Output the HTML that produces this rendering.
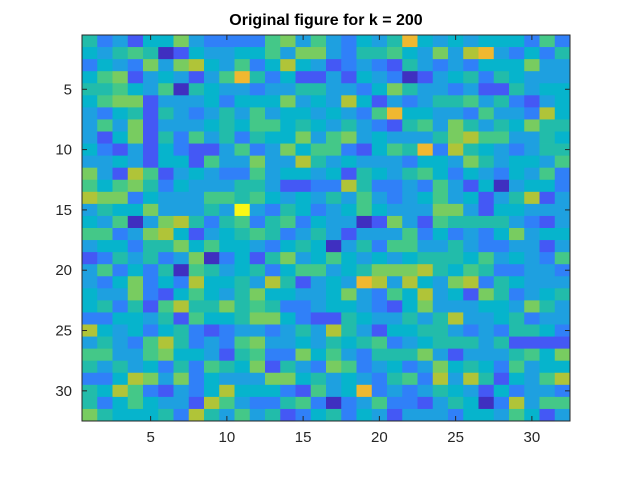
<!DOCTYPE html>
<html><head><meta charset="utf-8"><style>
body{margin:0;background:#fff;font-family:"Liberation Sans",sans-serif}
</style></head><body>
<svg id="chart" width="630" height="472" xmlns="http://www.w3.org/2000/svg">
<rect width="630" height="472" fill="#fff"/>
<text x="326" y="25" text-anchor="middle" font-family="Liberation Sans, sans-serif" font-weight="bold" font-size="16" fill="#000">Original figure for k = 200</text>
<g id="cells"></g>
<g id="axes"></g>
</svg>
<script>
const xTicks=[5,10,15,20,25,30];
const yTicks=[5,10,15,20,25,30];
const matrix=[
[5,2,3,1,4,4,7,3,2,2,2,2,6,7,3,6,3,2,4,3,5,9,4,3,4,3,4,4,4,2,6,2],
[4,3,5,6,5,0,1,4,3,3,4,4,6,3,7,7,3,2,5,5,6,4,3,7,3,8,9,3,2,4,2,5],
[2,4,3,2,7,3,7,8,4,3,6,2,4,8,4,3,1,2,3,2,1,5,3,2,3,2,4,4,4,7,3,3],
[4,6,7,1,3,4,3,1,3,6,9,5,2,4,1,1,3,1,4,3,2,0,1,3,4,5,2,5,4,3,3,3],
[5,5,6,4,3,6,0,5,4,3,3,2,3,3,5,5,3,3,2,4,7,5,3,3,2,3,1,1,5,3,4,4],
[4,6,7,7,1,3,3,3,4,2,4,4,4,7,3,4,3,8,4,1,3,2,3,5,5,6,3,5,2,1,3,4],
[3,2,4,5,1,5,3,2,3,5,3,6,3,4,4,3,4,3,2,6,9,4,4,3,3,2,6,3,3,2,8,4],
[3,6,3,7,1,3,3,3,4,5,4,6,6,4,5,4,3,5,3,2,1,5,6,3,7,5,3,5,4,7,5,5],
[3,1,4,7,1,5,2,6,3,5,2,5,4,4,7,3,6,7,3,4,3,3,3,5,7,8,6,6,3,3,5,4],
[4,2,1,3,1,4,2,1,1,3,6,2,3,7,4,6,6,2,1,4,6,5,9,2,8,5,4,3,2,3,5,5],
[3,3,4,3,1,4,4,1,6,3,3,7,3,3,8,5,3,4,3,3,3,2,4,4,3,7,5,3,4,4,3,6],
[7,3,1,8,6,1,3,4,3,2,2,6,3,4,4,3,4,1,5,4,3,5,6,4,2,4,3,2,4,3,6,2],
[6,4,6,7,5,2,4,3,3,3,5,5,3,1,1,2,2,8,5,2,2,3,2,6,3,1,4,0,3,4,4,2],
[8,7,7,2,4,3,3,3,6,6,5,6,4,3,4,3,5,3,6,3,2,3,4,6,3,4,1,3,5,8,1,3],
[3,5,4,4,7,3,3,3,5,3,10,3,2,5,4,2,3,4,6,4,3,3,3,7,7,3,1,4,4,3,3,3],
[4,3,6,0,3,7,8,5,2,5,6,2,5,6,2,4,3,3,0,1,7,3,1,6,5,5,5,5,3,2,1,3],
[6,6,2,3,7,8,4,1,3,4,5,6,5,2,3,5,3,1,3,3,3,6,2,4,2,3,2,4,7,3,4,4],
[3,4,4,2,5,5,7,4,6,4,4,3,2,4,5,4,0,3,5,2,6,6,3,3,5,3,2,2,3,3,1,3],
[1,2,5,3,5,2,3,7,0,2,4,1,5,7,3,4,6,4,3,4,3,4,5,5,5,4,6,3,4,3,2,6],
[3,6,2,4,2,5,0,6,5,3,4,5,2,4,6,6,3,4,5,7,7,7,8,5,4,6,5,2,2,3,3,2],
[3,2,4,7,2,4,2,8,4,4,5,3,8,5,1,3,4,3,9,8,3,8,4,3,7,8,2,5,4,3,3,3],
[4,3,3,7,2,1,4,6,4,3,5,7,4,4,3,3,4,7,3,2,6,4,8,3,4,1,7,5,2,3,4,5],
[4,5,2,5,1,6,8,5,5,7,5,6,5,2,2,3,4,4,3,2,1,4,7,3,3,3,4,4,3,7,5,3],
[2,2,4,4,3,5,1,6,4,4,5,7,7,4,2,1,1,5,4,3,3,5,3,5,8,3,3,4,5,2,3,3],
[8,4,3,4,2,4,5,2,1,2,3,3,2,3,5,3,8,5,3,1,4,4,5,5,3,2,3,2,5,5,4,2],
[3,5,3,2,6,8,5,2,3,2,6,7,3,3,4,3,5,4,5,6,2,3,4,5,5,5,3,5,1,1,1,1],
[6,6,3,3,6,7,4,4,3,1,5,6,2,2,7,4,6,3,2,5,5,5,7,3,1,3,3,3,5,6,4,7],
[5,3,5,3,4,2,5,2,6,5,4,7,1,5,3,2,7,6,2,3,4,2,3,7,4,5,4,2,6,3,4,4],
[2,2,4,8,7,3,7,2,4,3,3,3,7,7,4,5,3,4,3,2,5,6,2,8,3,8,5,1,4,3,6,8],
[5,4,8,6,2,1,3,2,4,8,4,4,4,2,1,6,3,4,9,2,3,2,3,5,4,3,1,4,2,3,3,2],
[5,2,4,6,4,3,3,1,8,6,3,2,2,5,6,2,0,2,3,6,2,2,1,3,5,4,0,2,8,3,6,6],
[7,5,4,4,4,5,2,8,5,3,6,3,5,1,2,4,5,2,4,3,1,3,3,3,2,4,4,3,6,4,1,3]
];
const L=82,R=570,T=35,B=421;
const nx=32,ny=32;
const cw=(R-L)/nx,ch=(B-T)/ny;
const xs=c=>L+(c-0.5)*cw; // center of column c (1-based)
const ys=r=>T+(r-0.5)*ch;
const stops=['#3f2fc0','#4458f5','#3080f8','#1ea0e0','#06b4cc','#22bcaa','#44c888','#78cc60','#b0c438','#f0b830','#f9f814'];
function color(v){
  let vmin=Infinity,vmax=-Infinity;
  for(const row of matrix)for(const x of row){if(x<vmin)vmin=x;if(x>vmax)vmax=x;}
  const t=(v-vmin)/(vmax-vmin||1)*(stops.length-1);
  const i=Math.min(stops.length-2,Math.floor(t)),f=t-i;
  const a=stops[i],b=stops[i+1];
  const h=(s,k)=>parseInt(s.substr(1+2*k,2),16);
  const c=[0,1,2].map(k=>Math.round(h(a,k)+(h(b,k)-h(a,k))*f));
  return 'rgb('+c.join(',')+')';
}
const NS='http://www.w3.org/2000/svg';
const cells=document.getElementById('cells');
matrix.forEach((row,r)=>row.forEach((v,c)=>{
  const e=document.createElementNS(NS,'rect');
  e.setAttribute('x',(xs(c+1)-cw/2).toFixed(2));
  e.setAttribute('y',(ys(r+1)-ch/2).toFixed(2));
  e.setAttribute('width',(cw+0.4).toFixed(2));
  e.setAttribute('height',(ch+0.4).toFixed(2));
  e.setAttribute('fill',color(v));
  
  
  cells.appendChild(e);
}));
const ax=document.getElementById('axes');
function add(tag,attrs,text){const e=document.createElementNS(NS,tag);for(const k in attrs)e.setAttribute(k,attrs[k]);if(text!==undefined)e.textContent=text;ax.appendChild(e);return e;}
const frame=add('rect',{x:L,y:T,width:R-L,height:B-T,fill:'none',stroke:'#262626','stroke-width':1});


xTicks.forEach(t=>{
  const x=xs(t);
  const l1=add('line',{x1:x,x2:x,y1:B,y2:B-5,stroke:'#262626'});
  
  
  const l2=add('line',{x1:x,x2:x,y1:T,y2:T+5,stroke:'#262626'});
  
  
  const tx=add('text',{x:x,y:B+21,'text-anchor':'middle','font-size':15,fill:'#262626','font-family':'Liberation Sans, sans-serif'},String(t));
  
  
});
yTicks.forEach(t=>{
  const y=ys(t);
  const l1=add('line',{x1:L,x2:L+5,y1:y,y2:y,stroke:'#262626'});
  
  
  const l2=add('line',{x1:R,x2:R-5,y1:y,y2:y,stroke:'#262626'});
  
  
  const tx=add('text',{x:L-10,y:y+5,'text-anchor':'end','font-size':15,fill:'#262626','font-family':'Liberation Sans, sans-serif'},String(t));
  
  
});
</script>
</body></html>
